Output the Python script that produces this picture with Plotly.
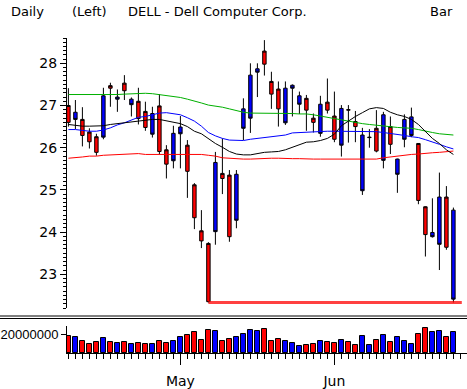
import plotly.graph_objects as go
import pandas as pd

# ---- data ----
dates = [d for d in pd.bdate_range("2002-04-09", "2002-06-26") if d != pd.Timestamp("2002-05-27")]

open_ = [26.60, 26.84, 26.29, 26.14, 25.89, 27.23, 27.41, 27.20, 27.35, 27.15,
         26.69, 26.48, 26.81, 25.91, 25.61, 26.34, 26.49, 25.44, 24.34, 23.79,
         22.35, 25.65, 25.27, 23.89, 25.37, 26.92, 27.72, 27.87, 27.98, 27.27,
         26.92, 27.41, 27.48, 27.23, 26.89, 26.60, 27.03, 26.89, 26.20, 26.93,
         26.89, 26.50, 26.30, 26.25, 25.92, 26.78, 26.08, 25.73, 26.67, 26.73,
         24.75, 23.94, 23.99, 24.83, 23.64, 24.52]
high = [27.41, 27.13, 26.96, 26.46, 26.33, 27.42, 27.54, 27.38, 27.72, 27.19,
        27.42, 27.09, 26.97, 27.27, 26.06, 26.52, 26.75, 26.18, 25.16, 24.52,
        23.76, 25.90, 26.22, 25.47, 25.47, 27.17, 28.00, 28.00, 28.55, 27.80,
        27.57, 27.57, 27.50, 27.33, 27.25, 26.81, 27.23, 27.64, 27.33, 27.01,
        27.01, 26.87, 26.47, 26.44, 26.89, 26.85, 26.74, 25.74, 26.79, 26.95,
        26.11, 24.61, 24.80, 25.41, 25.09, 24.58]
low = [26.50, 26.44, 26.03, 25.98, 25.81, 26.20, 26.97, 26.85, 27.13, 26.74,
       26.55, 26.40, 26.24, 25.85, 25.27, 25.51, 25.51, 24.81, 24.07, 23.62,
       22.33, 23.70, 24.90, 23.77, 24.09, 26.18, 26.35, 27.20, 27.71, 26.92,
       26.50, 26.54, 26.74, 26.80, 26.40, 26.36, 26.26, 26.81, 26.13, 25.79,
       26.12, 26.13, 24.88, 26.00, 25.89, 25.51, 25.85, 24.93, 26.01, 26.25,
       24.66, 23.42, 23.87, 23.10, 23.58, 22.33]
close = [27.00, 26.67, 26.67, 26.37, 26.26, 26.25, 27.47, 27.15, 27.53, 27.02,
         27.10, 26.86, 26.32, 26.99, 25.95, 25.69, 26.33, 26.06, 25.12, 24.03,
         23.73, 24.01, 25.39, 25.35, 24.28, 26.46, 26.70, 27.79, 28.29, 27.57,
         27.39, 26.59, 27.41, 27.03, 27.17, 26.70, 26.34, 27.08, 26.75, 26.06,
         26.90, 26.62, 24.98, 26.24, 26.46, 25.70, 26.50, 25.37, 26.20, 26.29,
         26.10, 24.60, 23.89, 23.71, 24.83, 22.41]

ma_black = [26.55, 26.53, 26.51, 26.51, 26.51, 26.52, 26.55, 26.57, 26.59, 26.62,
            26.64, 26.66, 26.67, 26.67, 26.64, 26.61, 26.57, 26.50, 26.39, 26.33,
            26.21, 26.10, 26.01, 25.91, 25.85, 25.83, 25.83, 25.86, 25.89, 25.90,
            25.91, 25.95, 26.01, 26.08, 26.13, 26.14, 26.17, 26.22, 26.32, 26.52,
            26.64, 26.74, 26.83, 26.92, 26.95, 26.93, 26.84, 26.78, 26.74, 26.67,
            26.55, 26.38, 26.22, 26.10, 25.95, 25.84]
ma_blue = [26.43, 26.43, 26.41, 26.39, 26.39, 26.42, 26.47, 26.54, 26.59, 26.66,
           26.72, 26.74, 26.78, 26.82, 26.83, 26.81, 26.78, 26.71, 26.63, 26.51,
           26.36, 26.28, 26.22, 26.18, 26.17, 26.17, 26.20, 26.22, 26.25, 26.26,
           26.28, 26.30, 26.35, 26.36, 26.37, 26.38, 26.38, 26.39, 26.39, 26.39,
           26.39, 26.39, 26.39, 26.39, 26.38, 26.36, 26.34, 26.32, 26.29, 26.26,
           26.24, 26.19, 26.14, 26.08, 26.02, 25.97]
ma_green = [27.26, 27.26, 27.25, 27.25, 27.25, 27.25, 27.26, 27.26, 27.27, 27.28,
            27.28, 27.29, 27.28, 27.26, 27.24, 27.22, 27.19, 27.15, 27.11, 27.06,
            27.01, 26.99, 26.96, 26.92, 26.88, 26.84, 26.82, 26.82, 26.81, 26.81,
            26.81, 26.81, 26.81, 26.80, 26.80, 26.78, 26.75, 26.72, 26.68, 26.66,
            26.62, 26.60, 26.57, 26.55, 26.53, 26.51, 26.50, 26.48, 26.47, 26.46,
            26.43, 26.39, 26.36, 26.33, 26.32, 26.30]
ma_red = [25.75, 25.76, 25.78, 25.80, 25.80, 25.82, 25.83, 25.83, 25.84, 25.86,
          25.86, 25.84, 25.84, 25.85, 25.85, 25.85, 25.85, 25.85, 25.85, 25.84,
          25.82, 25.80, 25.76, 25.75, 25.73, 25.73, 25.73, 25.74, 25.74, 25.75,
          25.75, 25.74, 25.74, 25.74, 25.73, 25.73, 25.73, 25.73, 25.73, 25.73,
          25.73, 25.73, 25.73, 25.73, 25.73, 25.76, 25.78, 25.80, 25.83, 25.84,
          25.85, 25.87, 25.88, 25.89, 25.91, 25.92]

volume_m = [18.1, 17.0, 13.4, 10.1, 12.3, 16.7, 12.3, 11.2, 12.3, 10.1,
            11.2, 10.1, 10.1, 13.4, 11.2, 13.4, 17.8, 19.9, 23.2, 14.5,
            25.4, 24.3, 13.4, 15.6, 17.8, 21.0, 25.4, 24.3, 26.4, 13.4,
            15.6, 13.4, 11.2, 8.0, 9.1, 10.1, 13.4, 12.3, 11.2, 14.5,
            12.3, 9.1, 18.8, 9.1, 14.5, 19.9, 12.3, 17.8, 13.4, 10.1,
            21.0, 27.5, 23.2, 24.3, 17.8, 23.2]

price_ticks = [23, 24, 25, 26, 27, 28]
volume_ticks = [20000000]

# ---- derived ----
n = len(dates)
x = list(range(n))
volume = [v * 1e6 for v in volume_m]
vcolors = ["#ff0000" if c >= o else "#0000ff" for o, c in zip(open_, close)]
month_idx = [i for i in range(1, n) if dates[i].month != dates[i - 1].month]
month_txt = [dates[i].strftime("%b") for i in month_idx]
lmin = min(low)
imin = low.index(lmin)

FONT = "DejaVu Sans"
W, H = 467, 389
ML, MR, MT, MB = 67, 0, 38, 36
PW, PH = W - ML - MR, H - MT - MB
XR = [-0.2, -0.2 + PW / 7.0]

def py(p):  # pixel y (from top) -> paper
    return (H - MB - p) / PH

def px(p):
    return (p - ML) / PW

fig = go.Figure()
fig.add_trace(go.Candlestick(
    x=x, open=open_, high=high, low=low, close=close,
    increasing=dict(fillcolor="#ff0000", line=dict(color="black", width=1)),
    decreasing=dict(fillcolor="#0000ff", line=dict(color="black", width=1)),
    whiskerwidth=0, xaxis="x", yaxis="y", hoverinfo="skip", showlegend=False))
for arr, col in [(ma_red, "#ff0000"), (ma_green, "#00b000"), (ma_blue, "#0000ff"), (ma_black, "#000000")]:
    fig.add_trace(go.Scatter(x=x, y=arr, mode="lines", line=dict(color=col, width=1),
                             xaxis="x", yaxis="y", hoverinfo="skip", showlegend=False))
fig.add_trace(go.Scatter(x=[imin, n - 1 + 1.2], y=[lmin, lmin], mode="lines",
                         line=dict(color="rgba(255,0,0,0.75)", width=3),
                         xaxis="x", yaxis="y", hoverinfo="skip", showlegend=False))
fig.add_trace(go.Bar(x=x, y=volume, width=0.6,
                     marker=dict(color=vcolors, line=dict(color="black", width=1)),
                     xaxis="x2", yaxis="y2", hoverinfo="skip", showlegend=False))

axfont = dict(family=FONT, size=14, color="black")
fig.update_layout(
    width=W, height=H,
    margin=dict(l=ML, r=MR, t=MT, b=MB, pad=0, autoexpand=False),
    paper_bgcolor="white", plot_bgcolor="white",
    font=dict(family=FONT, size=13, color="black"),
    showlegend=False, bargap=0,
    xaxis=dict(domain=[0, 1], anchor="y", range=XR, rangeslider=dict(visible=False), automargin=False,
               showticklabels=False, ticks="", showline=False, showgrid=False, zeroline=False),
    yaxis=dict(domain=[py(308), 1], anchor="x", range=[22.20, 28.60], automargin=False,
               tickmode="array", tickvals=price_ticks, ticks="outside", ticklen=6,
               tickcolor="black", showline=True, linecolor="black", linewidth=1,
               showgrid=False, zeroline=False, tickfont=axfont,
               minor=dict(dtick=0.1, ticklen=3, ticks="outside", tickcolor="black", showgrid=False)),
    xaxis2=dict(domain=[0, 1], anchor="y2", range=XR, matches="x", automargin=False,
                tickmode="array", tickvals=month_idx, ticktext=month_txt,
                ticks="outside", ticklen=11, tickcolor="black", ticklabelstandoff=4,
                showline=True, linecolor="black", linewidth=1, showgrid=False, zeroline=False,
                tickfont=axfont,
                minor=dict(tickmode="linear", tick0=0, dtick=1, ticks="outside", ticklen=5,
                           tickcolor="black", showgrid=False)),
    yaxis2=dict(domain=[0, py(326)], anchor="x2", range=[0, 29.3e6], automargin=False,
                tickmode="array", tickvals=volume_ticks, ticktext=[str(v) for v in volume_ticks],
                ticks="outside", ticklen=5, tickcolor="black",
                showline=True, linecolor="black", linewidth=1, showgrid=False, zeroline=False,
                tickfont=dict(family="Liberation Sans", size=13, color="black")),
)

for yy in (316, 318.5):
    fig.add_shape(type="line", xref="paper", yref="paper", x0=px(0), x1=px(W), y0=py(yy), y1=py(yy),
                  line=dict(color="black", width=1))

for txt, xx in [("Daily", 9), ("(Left)", 70), ("DELL - Dell Computer Corp.", 126), ("Bar", 428)]:
    fig.add_annotation(text=txt, xref="paper", yref="paper", x=px(xx), y=py(11),
                       xanchor="left", yanchor="middle", showarrow=False,
                       font=dict(family=FONT, size=13, color="black"))

fig.write_html("out.html", config={"displayModeBar": False},
               post_script="document.body.style.margin='0px';document.body.style.overflow='hidden';")
